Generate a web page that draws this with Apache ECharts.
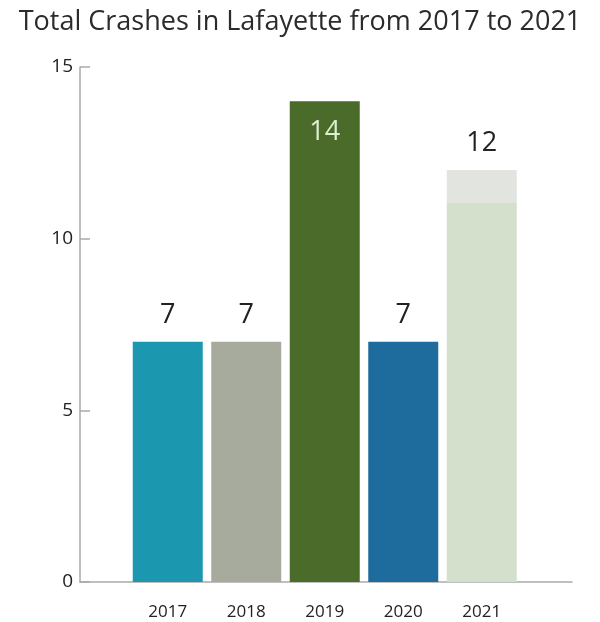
<!DOCTYPE html>
<html>
<head>
<meta charset="utf-8">
<script src="https://cdn.jsdelivr.net/npm/echarts@6/dist/echarts.min.js"></script>
<style>
  html, body { margin: 0; padding: 0; background: #ffffff; }
  #chart { width: 600px; height: 622px; }
</style>
</head>
<body>
<div id="chart"></div>
<script>
// Yearly crash counts
const years = ['2017', '2018', '2019', '2020', '2021'];
const crashes = [7, 7, 14, 7, 12];
const barColors = ['#1b97b0', '#a7ab9d', '#4b6b2b', '#1e6b9d', '#d4e0cb'];
const yTicks = [0, 5, 10, 15];

const FONT = '"Open Sans", "Noto Sans", sans-serif';

const chart = echarts.init(document.getElementById('chart'), null, { renderer: 'canvas' });

const barData = crashes.map((v, i) => {
  const item = { value: v, itemStyle: { color: barColors[i] } };
  if (i === 2) {
    // tallest bar carries its label inside, near the top
    item.label = { position: 'insideTop', distance: 17, color: '#dcefcf' };
  }
  if (i === 4) {
    // pale bar with a faint lighter cap
    item.itemStyle.color = {
      type: 'linear', x: 0, y: 0, x2: 0, y2: 1,
      colorStops: [
        { offset: 0, color: '#e2e4e0' },
        { offset: 0.08, color: '#e2e4e0' },
        { offset: 0.0801, color: '#d4e0cb' },
        { offset: 1, color: '#d4e0cb' }
      ]
    };
  }
  return item;
});

chart.setOption({
  animation: false,
  title: {
    text: 'Total Crashes in Lafayette from 2017 to 2021',
    left: 'center',
    top: 4,
    textStyle: { fontFamily: FONT, fontSize: 27, fontWeight: 'normal', color: '#2b2b2b' }
  },
  grid: [
    // frame with the value axis
    { left: 80, right: 28, top: 67, bottom: 40 },
    // band holding the five bars
    { left: 128.5, right: 79, top: 67, bottom: 40 }
  ],
  xAxis: [
    {
      gridIndex: 0, type: 'value', min: 0, max: 1,
      axisLine: { show: true, lineStyle: { color: '#aaaaaa', width: 1.5 } },
      axisTick: { show: false }, axisLabel: { show: false }, splitLine: { show: false }
    },
    {
      gridIndex: 1, type: 'category', data: years,
      axisLine: { show: false }, axisTick: { show: false },
      axisLabel: { margin: 22, fontFamily: FONT, fontSize: 17, color: '#222222' }
    }
  ],
  yAxis: [
    {
      gridIndex: 0, type: 'value', min: yTicks[0], max: yTicks[yTicks.length - 1], interval: 5,
      axisLine: { show: true, lineStyle: { color: '#aaaaaa', width: 1.5 } },
      axisTick: { show: true, inside: true, length: 10, lineStyle: { color: '#aaaaaa', width: 1.5 } },
      axisLabel: { margin: 7, fontFamily: FONT, fontSize: 19, color: '#222222' },
      splitLine: { show: false }
    },
    {
      gridIndex: 1, type: 'value', min: yTicks[0], max: yTicks[yTicks.length - 1],
      show: false, splitLine: { show: false }
    }
  ],
  series: [
    {
      type: 'bar',
      xAxisIndex: 1, yAxisIndex: 1,
      barWidth: 70,
      data: barData,
      label: {
        show: true, position: 'top', distance: 13,
        fontFamily: FONT, fontSize: 27, color: '#222222'
      }
    }
  ]
});
</script>
</body>
</html>
